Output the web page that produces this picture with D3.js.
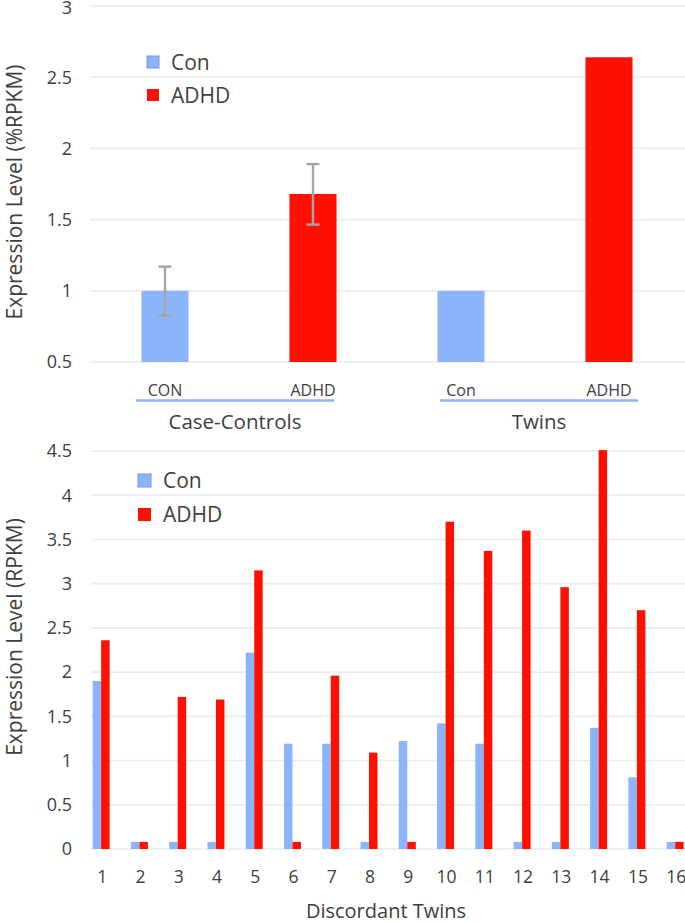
<!DOCTYPE html>
<html>
<head>
<meta charset="utf-8">
<script src="https://cdn.jsdelivr.net/npm/d3@7"></script>
<style>
  html, body { margin: 0; padding: 0; background: #fff; }
  svg { display: block; font-family: "Open Sans", sans-serif; }
</style>
</head>
<body>
<svg id="chart" width="685" height="923"></svg>
<script>
// ---------- DATA ----------
const topCategories = ["CON", "ADHD", "Con", "ADHD "];
const topGroups = ["Case-Controls", "Twins"];
const topValues = [1.0, 1.68, 1.0, 2.64];
const topErrLow = [0.825, 1.465, null, null];
const topErrHigh = [1.17, 1.89, null, null];
const topSeries = ["Con", "ADHD", "Con", "ADHD"];
const topTicks = [0.5, 1, 1.5, 2, 2.5, 3];

const twinIds = ["1","2","3","4","5","6","7","8","9","10","11","12","13","14","15","16"];
const conValues  = [1.90, 0.08, 0.08, 0.08, 2.22, 1.19, 1.19, 0.08, 1.22, 1.42, 1.19, 0.08, 0.08, 1.37, 0.81, 0.08];
const adhdValues = [2.36, 0.08, 1.72, 1.69, 3.15, 0.08, 1.96, 1.09, 0.08, 3.70, 3.37, 3.60, 2.96, 4.51, 2.70, 0.08];
const bottomTicks = [0, 0.5, 1, 1.5, 2, 2.5, 3, 3.5, 4, 4.5];

const legendLabels = ["Con", "ADHD"];

// ---------- STYLE ----------
const BLUE = "#8cb4fa";
const BLUE_EDGE = "#6f9ce6";
const RED = "#ff1000";
const TEXT = "#404040";
const GRID = "#e8ecec";
const fmt = d => d3.format("")(d);

const svg = d3.select("#chart");
const colorOf = s => s === "Con" ? BLUE : RED;

// ---------- TOP CHART ----------
const yTop = d3.scaleLinear().domain([0.5, 3]).range([362, 6]);
const xTop = d3.scaleBand().domain(topCategories).range([91, 683]).padding(0);
const gridX0 = 90, gridX1 = 685;

const gTop = svg.append("g");
gTop.selectAll("line.grid").data(topTicks).join("line")
  .attr("x1", gridX0).attr("x2", gridX1)
  .attr("y1", d => yTop(d)).attr("y2", d => yTop(d))
  .attr("stroke", GRID).attr("stroke-width", 1.6);

gTop.selectAll("text.ytick").data(topTicks).join("text")
  .attr("x", 72).attr("y", d => Math.max(yTop(d), 7.5)).attr("dy", "0.35em")
  .attr("text-anchor", "end").attr("font-size", 18).attr("fill", TEXT)
  .text(fmt);

const topBarW = xTop.bandwidth() * 0.318;
gTop.selectAll("rect.bar").data(topValues).join("rect")
  .attr("x", (d, i) => xTop(topCategories[i]) + xTop.bandwidth() / 2 - topBarW / 2)
  .attr("width", topBarW)
  .attr("y", d => yTop(d))
  .attr("height", d => yTop(0.5) - yTop(d))
  .attr("fill", (d, i) => colorOf(topSeries[i]));

// error bars
const errIdx = topValues.map((d, i) => i).filter(i => topErrLow[i] != null);
const eg = gTop.selectAll("g.err").data(errIdx).join("g")
  .attr("stroke", "#a2a6a6").attr("stroke-width", 2.4);
eg.append("line")
  .attr("x1", i => xTop(topCategories[i]) + xTop.bandwidth() / 2)
  .attr("x2", i => xTop(topCategories[i]) + xTop.bandwidth() / 2)
  .attr("y1", i => yTop(topErrLow[i])).attr("y2", i => yTop(topErrHigh[i]));
["low", "high"].forEach(k => {
  eg.append("line")
    .attr("x1", i => xTop(topCategories[i]) + xTop.bandwidth() / 2 - 6.5)
    .attr("x2", i => xTop(topCategories[i]) + xTop.bandwidth() / 2 + 6.5)
    .attr("y1", i => yTop(k === "low" ? topErrLow[i] : topErrHigh[i]))
    .attr("y2", i => yTop(k === "low" ? topErrLow[i] : topErrHigh[i]));
});

// category labels
gTop.selectAll("text.cat").data(topCategories).join("text")
  .attr("x", d => xTop(d) + xTop.bandwidth() / 2)
  .attr("y", 396)
  .attr("text-anchor", "middle").attr("font-size", 16).attr("fill", TEXT)
  .text(d => d.trim());

// group underline + labels
topGroups.forEach((g, gi) => {
  const c1 = xTop(topCategories[gi * 2]) + xTop.bandwidth() / 2;
  const c2 = xTop(topCategories[gi * 2 + 1]) + xTop.bandwidth() / 2;
  const mid = (c1 + c2) / 2 + (gi === 0 ? -4 : 4);
  gTop.append("line")
    .attr("x1", mid - 99).attr("x2", mid + 99)
    .attr("y1", 400.5).attr("y2", 400.5)
    .attr("stroke", BLUE).attr("stroke-width", 2.6);
  gTop.append("text")
    .attr("x", mid).attr("y", 429)
    .attr("text-anchor", "middle").attr("font-size", 20.5).attr("fill", TEXT)
    .text(g);
});

// y label
gTop.append("text")
  .attr("transform", `translate(15,${(yTop(0.5) + yTop(3)) / 2 + 8}) rotate(-90)`)
  .attr("text-anchor", "middle").attr("dy", "0.35em")
  .attr("font-size", 21).attr("fill", TEXT)
  .text("Expression Level (%RPKM)");

// legend
function legend(g, x, y0, step, sq, tx) {
  legendLabels.forEach((l, i) => {
    g.append("rect")
      .attr("x", x).attr("y", y0 + i * step)
      .attr("width", sq).attr("height", sq)
      .attr("fill", colorOf(l))
      .attr("stroke", l === "Con" ? BLUE_EDGE : "none").attr("stroke-width", 1);
    g.append("text")
      .attr("x", tx).attr("y", y0 + i * step + sq / 2).attr("dy", "0.36em")
      .attr("font-size", 21).attr("fill", TEXT)
      .text(l);
  });
}
legend(gTop, 147, 56, 33, 12, 171);

// ---------- BOTTOM CHART ----------
const yBot = d3.scaleLinear().domain([0, 4.5]).range([849, 451]);
const xBot = d3.scaleBand().domain(twinIds).range([83, 695.3]).padding(0);
const xSub = d3.scaleBand().domain(legendLabels).range([-9, 8]).padding(0);

const gBot = svg.append("g");
gBot.selectAll("line.grid").data(bottomTicks).join("line")
  .attr("x1", 91).attr("x2", gridX1)
  .attr("y1", d => yBot(d)).attr("y2", d => yBot(d))
  .attr("stroke", GRID).attr("stroke-width", 1.6);

gBot.selectAll("text.ytick").data(bottomTicks).join("text")
  .attr("x", 72).attr("y", d => yBot(d)).attr("dy", "0.35em")
  .attr("text-anchor", "end").attr("font-size", 18).attr("fill", TEXT)
  .text(fmt);

const rows = twinIds.map((id, i) => ({ id, Con: conValues[i], ADHD: adhdValues[i] }));
const grp = gBot.selectAll("g.pair").data(rows).join("g")
  .attr("transform", d => `translate(${xBot(d.id) + xBot.bandwidth() / 2 - 0.5},0)`);
grp.selectAll("rect").data(d => legendLabels.map(k => ({ k, v: d[k] }))).join("rect")
  .attr("x", d => xSub(d.k))
  .attr("width", xSub.bandwidth())
  .attr("y", d => yBot(d.v))
  .attr("height", d => yBot(0) - yBot(d.v))
  .attr("fill", d => colorOf(d.k));

gBot.selectAll("text.xtick").data(twinIds).join("text")
  .attr("x", d => xBot(d) + xBot.bandwidth() / 2)
  .attr("y", 883)
  .attr("text-anchor", "middle").attr("font-size", 17.5).attr("fill", TEXT)
  .text(d => d);

gBot.append("text")
  .attr("x", 386).attr("y", 918)
  .attr("text-anchor", "middle").attr("font-size", 20).attr("fill", TEXT)
  .text("Discordant Twins");

gBot.append("text")
  .attr("transform", `translate(15,${(yBot(0) + yBot(4.5)) / 2 - 13}) rotate(-90)`)
  .attr("text-anchor", "middle").attr("dy", "0.35em")
  .attr("font-size", 21).attr("fill", TEXT)
  .text("Expression Level (RPKM)");

legend(gBot, 138, 474, 34, 13, 163);
</script>
</body>
</html>
